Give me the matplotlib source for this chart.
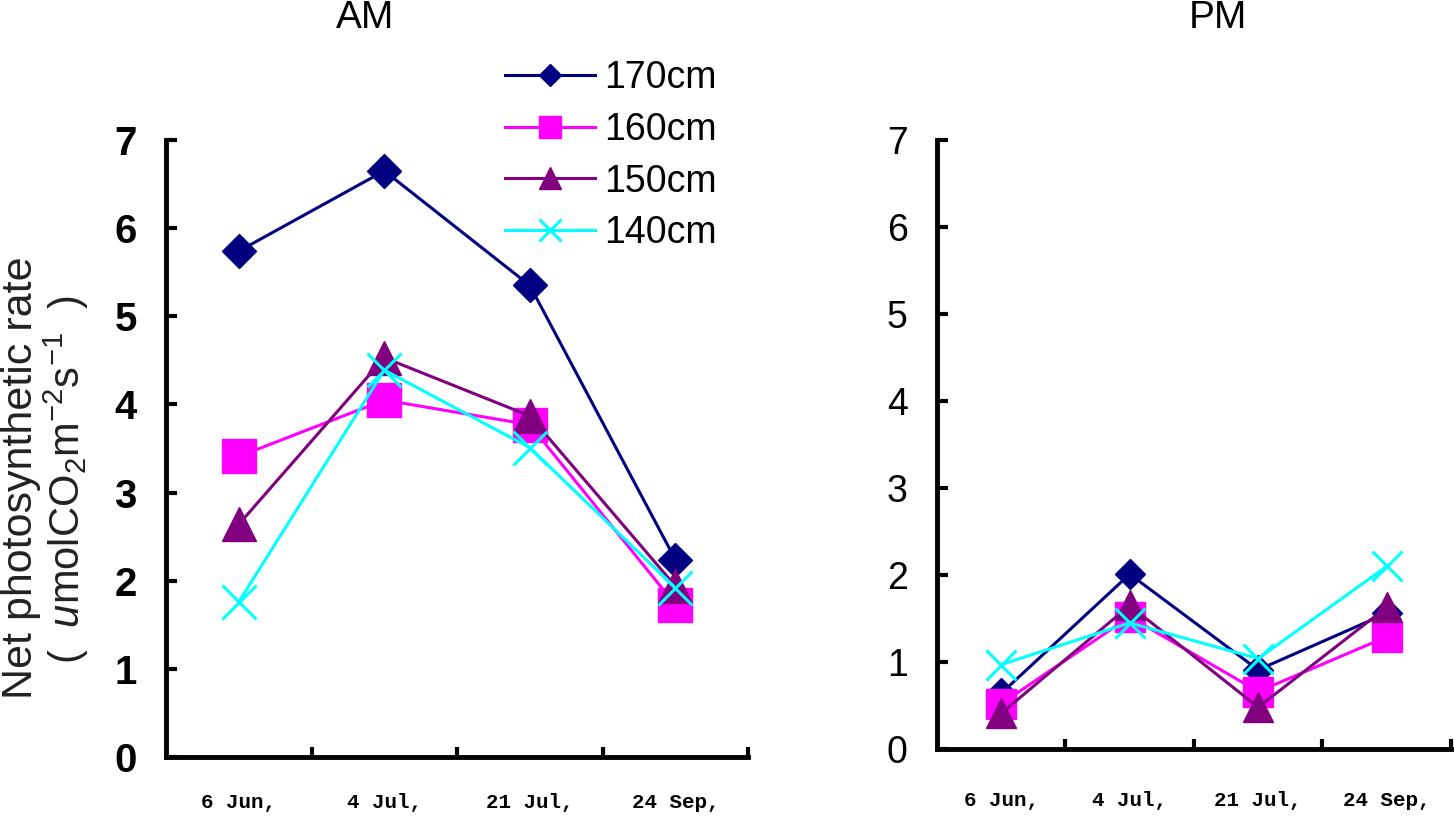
import numpy as np
import matplotlib
matplotlib.use("Agg")
import matplotlib.pyplot as plt

plt.rcParams['font.family'] = ['Liberation Sans', 'DejaVu Sans']
plt.rcParams['mathtext.fontset'] = 'custom'
plt.rcParams['mathtext.rm'] = 'Liberation Sans'
plt.rcParams['mathtext.it'] = 'Liberation Sans:italic'

# data
dates = ['6 Jun,', '4 Jul,', '21 Jul,', '24 Sep,']
series = ['170cm', '160cm', '150cm', '140cm']

am_170 = [5.74, 6.65, 5.35, 2.24]
am_160 = [3.41, 4.05, 3.77, 1.73]
am_150 = [2.64, 4.53, 3.87, 1.94]
am_140 = [1.76, 4.39, 3.51, 1.92]

pm_170 = [0.64, 2.01, 0.91, 1.56]
pm_160 = [0.52, 1.52, 0.66, 1.29]
pm_150 = [0.41, 1.65, 0.48, 1.63]
pm_140 = [0.97, 1.45, 1.04, 2.10]

colors = ['#000080', '#FF00FF', '#800080', '#00FFFF']
markers = ['D', 's', '^', 'x']
msizes = [17, 24, 24, 24]

fig = plt.figure(figsize=(14.54, 8.17), dpi=100)
ax1 = fig.add_axes([0.1142, 0.0734, 0.4003, 0.7552])
ax2 = fig.add_axes([0.6444, 0.0832, 0.3535, 0.7454])

x = np.arange(len(dates)) + 0.5


def draw(ax, data, scale, bold, pad_x):
    lines = []
    for vals, c, m, ms, lab in zip(data, colors, markers, msizes, series):
        if m == 'x':
            l, = ax.plot(x, vals, color=c, lw=2.2, marker=m, ms=ms * scale,
                         mew=2.2, label=lab, clip_on=False)
        else:
            l, = ax.plot(x, vals, color=c, lw=2.2, marker=m, ms=ms * scale,
                         mec=c, mfc=c, label=lab, clip_on=False)
        lines.append(l)
    ax.set_xlim(0, 4)
    ax.set_ylim(0, 7)
    for s in ['top', 'right']:
        ax.spines[s].set_visible(False)
    for s in ['left', 'bottom']:
        ax.spines[s].set_linewidth(3.5)
    ax.set_yticks(range(8))
    ax.set_yticklabels([str(i) for i in range(8)], fontsize=29 if bold else 27,
                       fontweight='bold' if bold else 'normal')
    ax.tick_params(axis='y', direction='in', length=8, width=3, pad=21)
    ax.set_xticks([1, 2, 3, 4])
    ax.set_xticklabels([])
    ax.tick_params(axis='x', which='major', direction='in', length=7, width=3)
    ax.set_xticks(x, minor=True)
    ax.set_xticklabels(dates, minor=True, fontsize=15, family='Liberation Mono',
                       fontweight='bold')
    ax.tick_params(axis='x', which='minor', length=0, pad=pad_x)
    return lines


lines = draw(ax1, [am_170, am_160, am_150, am_140], 1.0, True, 26)
draw(ax2, [pm_170, pm_160, pm_150, pm_140], 0.9, False, 30)

fig.text(365 / 1454, 1 - 18 / 817, 'AM', fontsize=28, ha='center', va='center')
fig.text(1218 / 1454, 1 - 18 / 817, 'PM', fontsize=28, ha='center', va='center')

fig.text(21 / 1454, 1 - 478 / 817, 'Net photosynthetic rate', fontsize=31,
         rotation=90, ha='center', va='center', color='#222222')
fig.text(66 / 1454, 1 - 480 / 817,
         r'(  $\mathit{u}$molCO$_2$m$^{-2}$s$^{-1}$  )', fontsize=30,
         rotation=90, ha='center', va='center', color='#222222')

fig.legend(handles=lines, loc='upper left', bbox_to_anchor=(505 / 1454, 1 - 60 / 817),
           frameon=False, fontsize=27, markerscale=0.65, handlelength=2.4,
           handletextpad=0.25, labelspacing=0.42, borderpad=0, borderaxespad=0)

fig.savefig('out.png', dpi=100)
